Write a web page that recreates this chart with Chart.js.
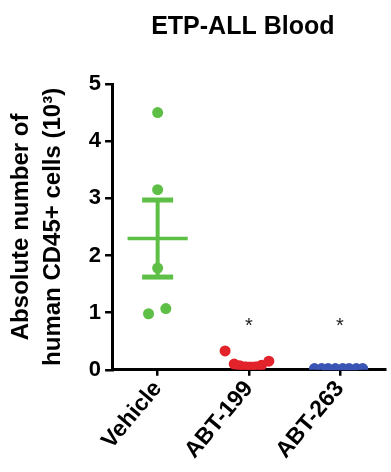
<!DOCTYPE html>
<html>
<head>
<meta charset="utf-8">
<script src="https://cdn.jsdelivr.net/npm/chart.js@4.4.0/dist/chart.umd.min.js"></script>
<style>
html,body{margin:0;padding:0;background:#fff;}
#wrap{width:391px;height:472px;position:relative;}
</style>
</head>
<body>
<div id="wrap"><canvas id="c" width="391" height="472"></canvas></div>
<script>
const categories = ["Vehicle", "ABT-199", "ABT-263"];
const vehicleValues = [4.5, 3.15, 1.78, 1.07, 0.98];
const vehicleJitter = [0, 0, 0, 0.09, -0.1];
const abt199Values = [0.33, 0.1, 0.07, 0.05, 0.03, 0.05, 0.08, 0.15];
const abt199Jitter = [-0.26, -0.16, -0.1, -0.04, 0.02, 0.08, 0.14, 0.22];
const abt263Values = [0.02, 0.02, 0.02, 0.02, 0.02, 0.02, 0.02, 0.02];
const abt263Jitter = [-0.28, -0.2, -0.13, -0.05, 0.03, 0.1, 0.18, 0.25];
const significance = ["", "*", "*"];
const yTicks = [0, 1, 2, 3, 4, 5];
const chartTitle = "ETP-ALL Blood";
const yTitle = ["Absolute number of", "human CD45+ cells (10³)"];

const colors = ["#5dbf45", "#e3232b", "#3b55b5"];
const groups = [vehicleValues, abt199Values, abt263Values];
const jitters = [vehicleJitter, abt199Jitter, abt263Jitter];
const FONT = "Arial, 'Liberation Sans', sans-serif";

function mean(a){return a.reduce((s,v)=>s+v,0)/a.length;}
function sem(a){const m=mean(a);const v=a.reduce((s,x)=>s+(x-m)*(x-m),0)/(a.length-1);return Math.sqrt(v)/Math.sqrt(a.length);}

const datasets = groups.map((vals,gi)=>({
  label: categories[gi],
  data: vals.map((v,i)=>({x: gi+1+jitters[gi][i], y: v})),
  backgroundColor: colors[gi],
  borderColor: colors[gi],
  pointRadius: 5.5,
  pointHoverRadius: 5.5,
  borderWidth: 0
}));

const overlay = {
  id: 'overlay',
  afterDatasetsDraw(chart){
    const ctx = chart.ctx, xs = chart.scales.x, ys = chart.scales.y;
    ctx.save();
    groups.forEach((vals,gi)=>{
      const m = mean(vals), s = sem(vals);
      const cx = gi+1;
      ctx.strokeStyle = colors[gi];
      ctx.lineWidth = 3.5;
      ctx.lineCap = 'butt';
      const halfMean = gi===0 ? 0.33 : 0.2;
      ctx.beginPath();
      ctx.moveTo(xs.getPixelForValue(cx-halfMean), ys.getPixelForValue(m));
      ctx.lineTo(xs.getPixelForValue(cx+halfMean), ys.getPixelForValue(m));
      ctx.stroke();
      if (gi===0){
        ctx.lineWidth = 4;
        ctx.beginPath();
        ctx.moveTo(xs.getPixelForValue(cx), ys.getPixelForValue(m+s));
        ctx.lineTo(xs.getPixelForValue(cx), ys.getPixelForValue(m-s));
        ctx.stroke();
        ctx.lineWidth = 5;
        [m+s, m-s].forEach(v=>{
          ctx.beginPath();
          ctx.moveTo(xs.getPixelForValue(cx-0.17), ys.getPixelForValue(v));
          ctx.lineTo(xs.getPixelForValue(cx+0.17), ys.getPixelForValue(v));
          ctx.stroke();
        });
      }
      if (significance[gi]){
        ctx.fillStyle = '#222';
        ctx.font = "20px " + FONT;
        ctx.textAlign = 'center';
        ctx.textBaseline = 'middle';
        ctx.fillText(significance[gi], xs.getPixelForValue(cx), ys.getPixelForValue(0.76));
      }
    });
    ctx.fillStyle = '#000';
    ctx.font = "bold 25px " + FONT;
    ctx.textAlign = 'center';
    ctx.textBaseline = 'middle';
    ctx.fillText(chartTitle, (chart.chartArea.left+chart.chartArea.right)/2 - 6, 27);
    ctx.restore();
  }
};

new Chart(document.getElementById('c'), {
  type: 'scatter',
  data: { datasets },
  options: {
    responsive: false,
    animation: false,
    events: [],
    layout: { padding: { top: 84, right: 2, left: 5, bottom: 8 } },
    plugins: { legend: { display: false }, tooltip: { enabled: false }, title: { display: false } },
    scales: {
      x: {
        type: 'linear',
        min: 0.5, max: 3.5,
        afterBuildTicks(scale){ scale.ticks = categories.map((c,i)=>({value:i+1})); },
        ticks: {
          callback: (v)=>categories[v-1] || '',
          color: '#000',
          font: { family: FONT, size: 23, weight: 'bold' },
          minRotation: 50, maxRotation: 50,
          padding: 0, autoSkip: false
        },
        grid: { drawOnChartArea: false, color: '#000', lineWidth: 2.5, tickLength: 6 },
        border: { color: '#000', width: 3 }
      },
      y: {
        min: 0, max: 5,
        afterBuildTicks(scale){ scale.ticks = yTicks.map(v=>({value:v})); },
        ticks: {
          color: '#000',
          font: { family: FONT, size: 22, weight: 'bold' },
          padding: 4
        },
        grid: { drawOnChartArea: false, color: '#000', lineWidth: 2.5, tickLength: 7 },
        border: { color: '#000', width: 3 },
        title: {
          display: true,
          text: yTitle,
          color: '#000',
          font: { family: FONT, size: 24, weight: 'bold', lineHeight: 1.33 },
          padding: { top: 0, bottom: 16 }
        }
      }
    }
  },
  plugins: [overlay]
});
</script>
</body>
</html>
